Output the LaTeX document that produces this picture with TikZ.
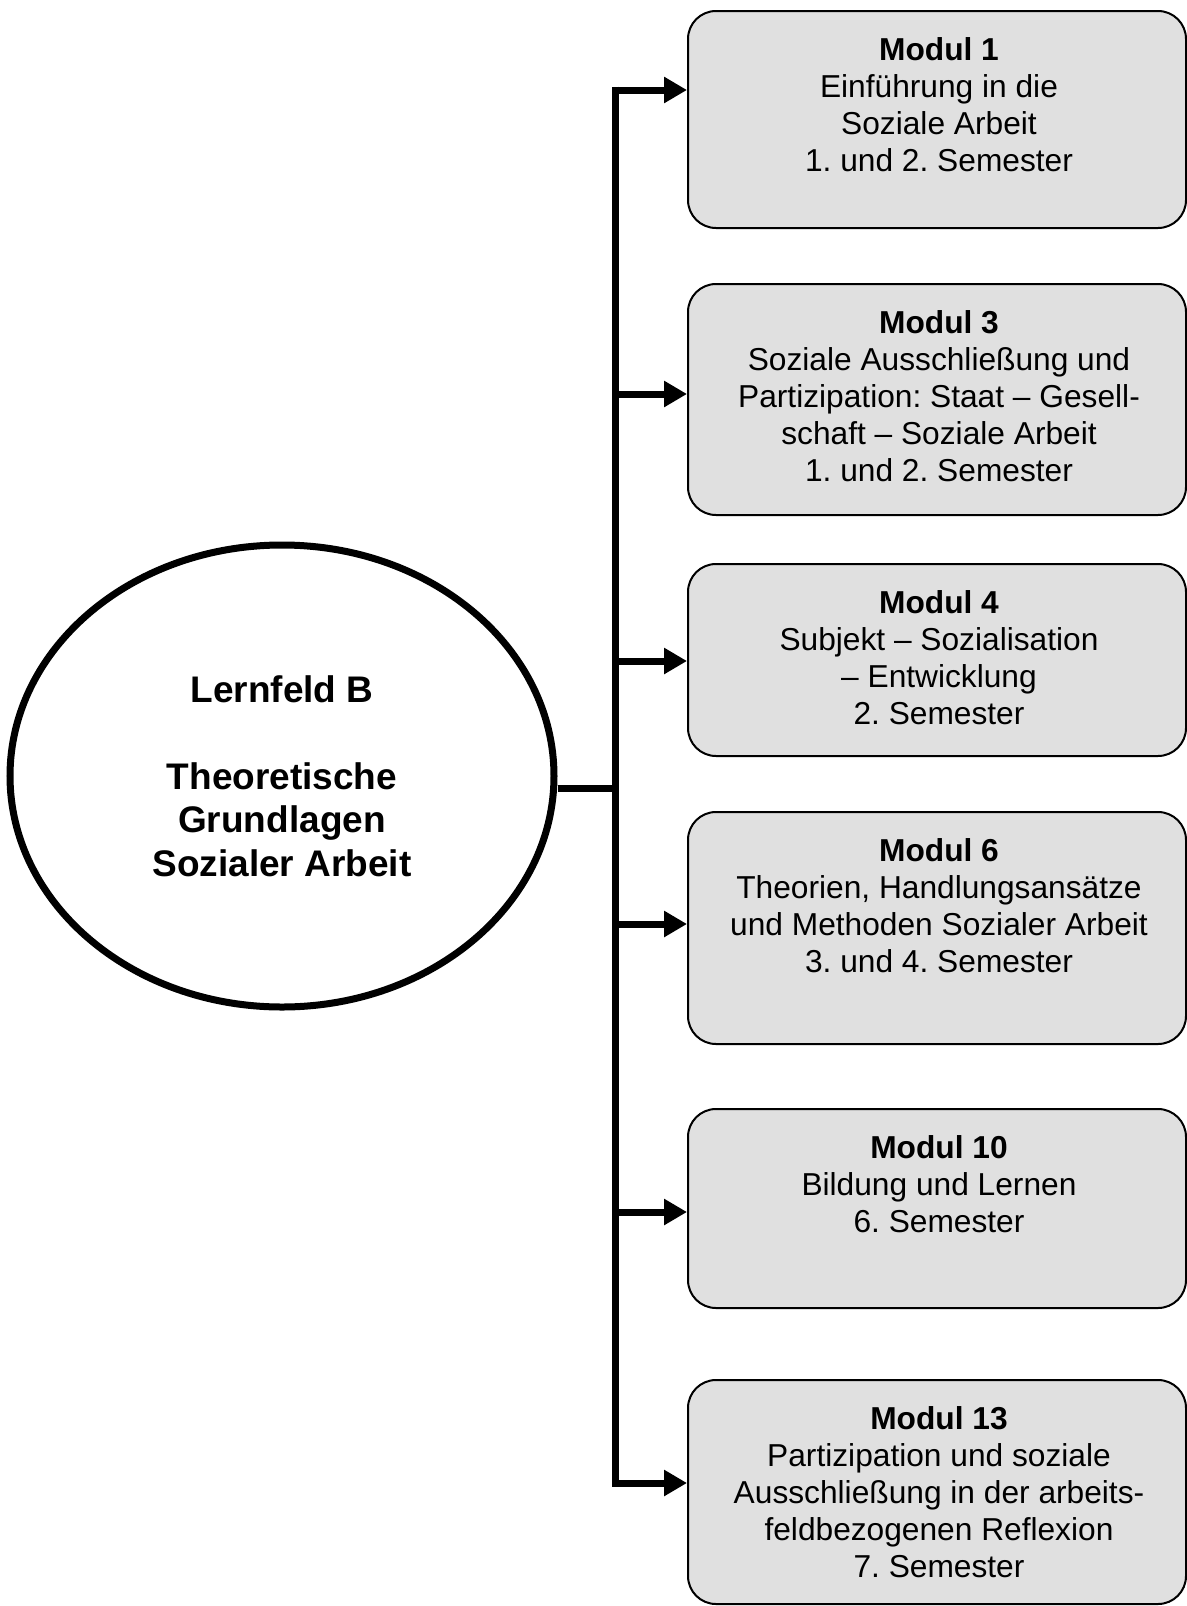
\documentclass[tikz,border=0pt]{standalone}
\usepackage{fontspec}
\setmainfont{Liberation Sans}
\usetikzlibrary{shapes.geometric,arrows.meta}
\definecolor{boxgray}{RGB}{224,224,224}
\frenchspacing
\begin{document}
\begin{tikzpicture}[x=1pt,y=-1pt,
  modbox/.style={draw=black,line width=2pt,fill=boxgray,rounded corners=28pt,minimum width=498pt,inner sep=0pt,anchor=north west},
  modtext/.style={anchor=north,align=center,inner sep=0pt,font=\fontsize{31.7}{37.2}\selectfont},
  conn/.style={line width=7pt},
  arr/.style={line width=7pt,-{Triangle[length=23pt,width=25pt]}}]
\useasboundingbox (0,0) rectangle (1186,1606);
% ellipse
\node[ellipse,draw=black,line width=7pt,minimum width=544pt,minimum height=462pt,inner sep=0pt,align=center,font=\fontsize{37}{43.4}\selectfont\bfseries] (ell) at (282,776)
  {Lernfeld B\\[43.4pt]Theoretische\\Grundlagen\\Sozialer Arbeit};
% boxes
\node[modbox,minimum height=217pt] (b1) at (687,10) {};
\node[modbox,minimum height=231pt] (b2) at (687,283) {};
\node[modbox,minimum height=192pt] (b3) at (687,563) {};
\node[modbox,minimum height=232pt] (b4) at (687,811) {};
\node[modbox,minimum height=199pt] (b5) at (687,1108) {};
\node[modbox,minimum height=224pt] (b6) at (687,1379) {};
% texts
\node[modtext] (t1) at (939,37) {\textbf{Modul 1}\\Einführung in die\\Soziale Arbeit\\1. und 2. Semester};
\node[modtext] (t2) at (939,310) {\textbf{Modul 3}\\Soziale Ausschließung und\\Partizipation: Staat – Gesell-\\schaft – Soziale Arbeit\\1. und 2. Semester};
\node[modtext] (t3) at (939,590) {\textbf{Modul 4}\\Subjekt – Sozialisation\\– Entwicklung\\2. Semester};
\node[modtext] (t4) at (939,838) {\textbf{Modul 6}\\Theorien, Handlungsansätze\\und Methoden Sozialer Arbeit\\3. und 4. Semester};
\node[modtext] (t5) at (939,1135) {\textbf{Modul 10}\\Bildung und Lernen\\6. Semester};
\node[modtext] (t6) at (939,1406) {\textbf{Modul 13}\\Partizipation und soziale\\Ausschließung in der arbeits-\\feldbezogenen Reflexion\\7. Semester};
% junctions
\coordinate (j1) at (615,90);
\coordinate (j2) at (615,394);
\coordinate (j3) at (615,661);
\coordinate (j4) at (615,924);
\coordinate (j5) at (615,1212);
\coordinate (j6) at (615,1483);
\coordinate (jm) at (615,788);
\draw[conn] ([yshift=3.5pt]j1) -- ([yshift=-3.5pt]j6);
\draw[conn] ([yshift=-12pt]ell.east) -- (jm);
\foreach \i in {1,...,6}{\draw[arr] (j\i) -- (j\i -| b\i.west);}
\end{tikzpicture}
\end{document}
